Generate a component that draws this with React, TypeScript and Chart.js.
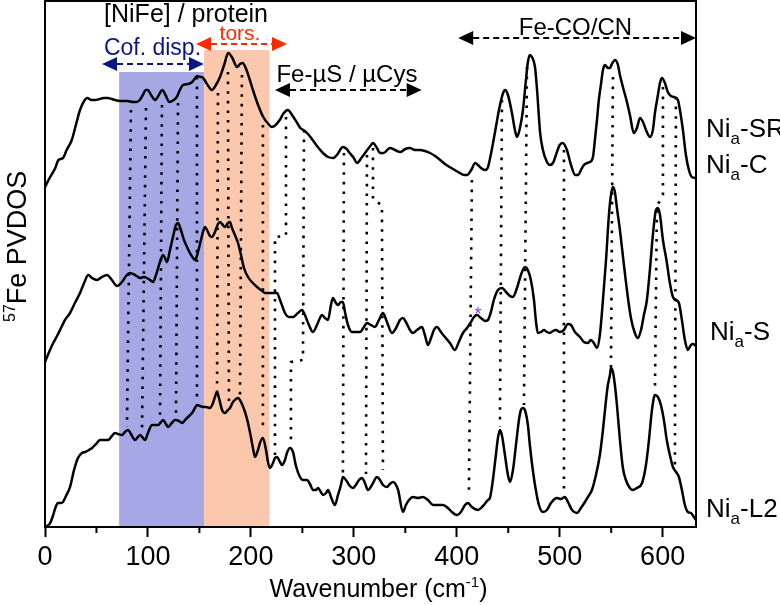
import { useEffect, useRef } from 'react';
import { Chart, registerables } from 'chart.js';

Chart.register(...registerables);

const FONT = "'Liberation Sans', Arial, Helvetica, sans-serif";

// ---------- data (x: wavenumber cm-1, y: PVDOS, arbitrary offset units) ----------
const xTicks = [0, 100, 200, 300, 400, 500, 600];
const xMinorTicks = [50, 150, 250, 350, 450, 550];

const niaSR: number[][] = [
  [0, 340], [5, 350], [10, 359], [13, 367], [17.5, 369], [21, 377], [26, 387], [30, 402], [34, 417], [38, 426],
  [41, 429], [45, 427], [49, 427], [53, 428], [57, 429], [61, 429], [65, 428], [68, 427], [73, 426], [80, 426],
  [85.5, 425], [89, 425], [92, 427], [95, 432], [98, 437], [100, 437], [103, 432], [107, 427], [110, 431], [114, 437],
  [117, 432], [121, 425], [125, 427], [128, 430], [131, 437], [134, 442], [139, 443], [143, 445], [146, 449], [148, 451],
  [151, 450], [152.5, 450], [155, 447], [158, 442], [162, 437], [166, 442], [170, 450], [174, 462], [178, 474], [182, 469],
  [186.5, 460], [189.5, 463], [192, 464], [195, 459], [199, 447], [202, 437], [207, 422], [212, 410], [217, 403], [220.5, 400],
  [224, 402], [228, 407], [232, 414], [236, 417], [240, 412], [245, 404], [248, 399], [251, 397], [255.5, 393], [260, 387],
  [265, 380], [270, 374], [275, 370], [280, 369], [283.6, 372], [289.4, 380], [293, 378], [296, 374], [300, 369], [303, 364],
  [308, 370], [313, 377], [316, 381], [318.6, 384], [322.5, 379], [325.4, 374], [329, 374], [335, 379], [340, 377], [345, 375],
  [350, 378], [354.5, 379], [359.4, 377], [364, 377], [369, 376], [374, 374], [379, 371], [384, 367], [388.5, 363], [393, 360],
  [398, 357], [403, 354], [407, 352], [410, 352], [414, 357], [418, 364], [420.6, 362], [423.5, 359], [427.4, 357], [430, 359],
  [433, 372], [437, 394], [441, 417], [445, 434], [447, 437], [449.7, 432], [453.6, 414], [456.5, 397], [458.5, 390], [461.4, 399],
  [464.3, 417], [467.2, 447], [469.1, 465], [471, 472], [473, 470], [476, 460], [478, 437], [481, 394], [483.7, 377], [487.6, 365],
  [490.5, 362], [493.4, 364], [497.3, 375], [500, 382], [503, 384], [507, 377], [511, 362], [515, 352], [518, 352], [520.6, 357],
  [523.5, 362], [526.4, 364], [529.4, 365], [532.3, 370], [534.2, 387], [536.2, 407], [538, 427], [540, 442], [542, 457], [544, 462],
  [546.8, 459], [548.8, 459], [550.7, 463], [553.6, 467], [556.6, 462], [558.5, 452], [561.4, 440], [565.3, 425], [568.2, 412], [572, 394],
  [575, 399], [578, 409], [580.9, 405], [583.8, 397], [587.6, 390], [590.5, 397], [592.5, 414], [595.4, 432], [597.4, 444], [599.3, 449],
  [602.2, 444], [605, 435], [608, 431], [611, 430], [614.8, 427], [616.8, 417], [619.7, 397], [622.6, 372], [625.5, 357], [628.4, 350],
  [632.4, 349],
];

const niaS: number[][] = [
  [0, 165], [4, 175], [8, 184], [11.7, 191], [14.6, 197], [19.4, 207], [24.3, 214], [29, 224], [34, 234], [38, 244],
  [42, 252], [45.7, 249], [50.5, 247], [55.4, 250], [60.2, 252], [65, 247], [70, 241], [74.8, 245], [78.7, 251], [82.6, 254],
  [87.4, 252], [92.3, 249], [96, 250], [99, 249], [102, 247], [105, 245], [107.8, 252], [111.7, 265], [114.6, 272], [116.6, 269],
  [118.5, 265], [121.4, 277], [124.3, 290], [127.2, 302], [129.2, 304], [132, 297], [135, 287], [138, 280], [140.8, 274], [143.8, 269],
  [145.7, 267], [148.6, 275], [151.5, 287], [153.5, 295], [155.4, 300], [157.4, 297], [160.3, 291], [162.2, 290], [165.1, 295], [168, 303],
  [170, 305], [172, 303], [174.8, 300], [177.7, 304], [179.7, 305], [181.6, 299], [184.5, 292], [187.5, 284], [190.4, 272], [193.3, 259],
  [197.2, 250], [201, 245], [206, 240], [209.8, 237], [213.7, 234], [218.5, 234], [222.4, 234], [225.3, 234], [228.3, 227], [231.2, 219],
  [233.1, 214], [237, 210], [241, 210], [245.7, 214], [249.6, 217], [252.5, 212], [256.4, 202], [260.3, 195], [264.2, 202], [267.1, 209],
  [269, 212], [272, 209], [274.9, 207], [277.8, 222], [279.7, 229], [282.6, 224], [284.6, 222], [287.5, 225], [289.4, 225], [291.4, 215],
  [294.3, 202], [298.2, 195], [302, 195], [306, 195], [309.8, 200], [312.8, 204], [316.6, 202], [320.5, 200], [324.4, 207], [328.3, 214],
  [332.2, 205], [337, 194], [341, 199], [344.8, 207], [347.7, 209], [350.6, 205], [354.5, 197], [357.4, 194], [361.3, 197], [366.2, 200],
  [369, 192], [372, 182], [375, 189], [377.8, 197], [380.7, 200], [384.6, 195], [388.5, 190], [393.4, 184], [398.2, 177], [402, 185],
  [406, 194], [410, 199], [413.8, 205], [416.7, 210], [419.6, 212], [423.5, 209], [427.4, 206], [430.3, 207], [433.2, 215], [436, 227],
  [440, 237], [444, 239], [447.8, 235], [451.7, 231], [454.6, 230], [458.5, 239], [462.3, 252], [466.2, 260], [469, 257], [472, 247],
  [475, 227], [477, 205], [478.8, 194], [481.8, 195], [484.7, 197], [487.6, 195], [490.5, 194], [493.4, 196], [496.3, 197], [500.2, 195],
  [504, 197], [508, 203], [511, 202], [514.8, 195], [519.7, 190], [523.5, 185], [527.4, 184], [530.3, 187], [533.2, 184], [536.2, 179],
  [539, 192], [542, 227], [545, 267], [547.8, 312], [549.8, 332], [551.7, 340], [553.6, 335], [555.6, 319], [558.5, 297], [562.4, 262],
  [566.3, 229], [569.2, 209], [573, 194], [576, 189], [579, 197], [581.8, 212], [584.7, 227], [587.6, 257], [590.5, 292], [593.5, 317],
  [595.4, 319], [597.4, 312], [600.3, 287], [604, 265], [607, 244], [610, 230], [613, 227], [615.8, 224], [618.7, 207], [621.6, 187],
  [624.5, 177], [627.5, 182], [629.4, 183], [632.4, 181],
];

const niaL2: number[][] = [
  [0, 0], [2, 1], [5, 4], [8, 12], [10, 19], [12.6, 24], [15.5, 24], [17.5, 25], [20.4, 31], [24.3, 40],
  [28.2, 57], [32, 69], [36, 74], [39, 75], [42.7, 77], [45.7, 79], [49.5, 83], [53.4, 87], [57.3, 87], [61.2, 87],
  [65, 91], [68, 94], [71, 93], [74.8, 92], [77.7, 95], [80.6, 97], [83.5, 93], [87.4, 87], [90.3, 90], [92.3, 92],
  [95.2, 89], [97.1, 87], [100, 94], [104, 102], [106.8, 102], [109.8, 102], [112.7, 105], [114.6, 107], [117.5, 103], [119.5, 100],
  [122.4, 103], [126.3, 107], [130.2, 106], [133, 104], [137, 108], [140, 111], [142.8, 114], [145.7, 119], [147.6, 122], [150.6, 121],
  [153.5, 120], [156.4, 120], [160.3, 119], [163.2, 124], [165.1, 130], [167.1, 135], [169, 129], [172, 117], [174.8, 114], [177.7, 117],
  [179.7, 119], [182.6, 125], [185.5, 128], [187.5, 129], [190.4, 125], [194.3, 115], [197.2, 104], [200, 90], [202, 79], [204, 70],
  [206.9, 77], [208.8, 84], [211.7, 89], [214.7, 77], [216.6, 65], [218.5, 59], [221.5, 64], [223.4, 69], [225.3, 70], [228.3, 65],
  [230.2, 62], [233.1, 67], [235, 74], [238, 79], [240.9, 75], [243.8, 61], [247.7, 50], [250.6, 47], [254.5, 47], [257.4, 43],
  [260.3, 37], [263.2, 37], [265.2, 39], [268, 35], [270, 32], [273, 34], [275, 37], [277.8, 30], [281.7, 22], [284.6, 32],
  [287.5, 42], [289.4, 50], [292.4, 47], [296.2, 41], [299.2, 39], [302, 42], [305, 47], [308, 49], [310.8, 44], [313.7, 37],
  [317.6, 42], [322.5, 50], [325.4, 47], [328.3, 42], [332.2, 40], [335, 43], [338, 45], [343, 37], [347.7, 15], [350.6, 22],
  [353.6, 27], [357.4, 30], [362.3, 29], [367.2, 30], [372, 27], [377, 22], [381.7, 22], [386.6, 22], [391.4, 19], [395.3, 15],
  [400.2, 12], [404, 15], [408, 22], [410.9, 24], [414.7, 20], [420.6, 17], [425.4, 21], [430.3, 27], [432.2, 29], [435.1, 47],
  [438, 72], [440, 89], [442, 97], [444, 91], [446.8, 72], [449.7, 52], [451.7, 45], [454.6, 57], [457.5, 82], [460.4, 107],
  [462.3, 117], [464.3, 119], [466.2, 117], [469.1, 102], [471, 82], [473, 64], [476, 42], [479.8, 22], [483.7, 15], [487.6, 17],
  [491.5, 24], [497.3, 29], [501.2, 28], [505, 30], [508, 25], [512, 17], [516.7, 14], [520.6, 19], [524.5, 25], [527.4, 30],
  [531.3, 37], [535.2, 52], [539, 72], [542, 97], [545, 127], [546.8, 142], [548.8, 152], [549.8, 159], [551.7, 155], [553.6, 142],
  [555.6, 122], [558.5, 87], [561.4, 59], [564.3, 47], [568.2, 39], [571.1, 37], [575, 39], [580, 44], [583.8, 62], [586.7, 87],
  [589.6, 117], [592.5, 132], [595.4, 130], [598.3, 122], [601.2, 107], [604, 87], [607, 72], [610, 60], [613, 55], [615.8, 50],
  [618.7, 37], [621.6, 22], [624.5, 15], [627.5, 14], [630.4, 10], [632.4, 7],
];

// dotted peak-correlation guides (polylines, wavenumber / PVDOS units)
const guideLines: number[][][] = [
  [[83.5, 417], [79.6, 100]],
  [[98.1, 419], [94.2, 94]],
  [[113.6, 422], [111.7, 107]],
  [[129.2, 424], [127.2, 107]],
  [[147.6, 450], [147.6, 124]],
  [[168, 434], [167.1, 129]],
  [[177.7, 455], [178.7, 121]],
  [[191.3, 452], [189.4, 129]],
  [[211.7, 402], [211.7, 95]],
  [[234.1, 410], [234.1, 291], [223.4, 290], [223.4, 72]],
  [[251.6, 397], [250.6, 167], [238.9, 165], [238.9, 82]],
  [[290.4, 374], [289.4, 51]],
  [[312.8, 372], [311.8, 53]],
  [[318.6, 379], [318.6, 327], [327.3, 322], [328.3, 57]],
  [[414.7, 347], [411.8, 35]],
  [[443.9, 427], [441.9, 100]],
  [[468.2, 460], [465.3, 122]],
  [[504.1, 377], [504.1, 37]],
  [[551.7, 450], [549.8, 159]],
  [[600.3, 440], [600.3, 332], [594.4, 321], [592.5, 135]],
  [[612.9, 430], [611.9, 61]],
];

// shaded regions: [from, to, top]
const cofDispBand = [72, 154.5, 455];
const torsionBand = [154.5, 218, 477];

// range arrows: [from, to, height]
const cofArrow = [55.4, 154.4, 463];
const torsArrow = [146.7, 235.1, 483];
const feSArrow = [223.4, 365.9, 437];
const feCOArrow = [401.4, 632.4, 489];

const seriesLabels = ['-SR', '-C', '-S', '-L2'];
const seriesLabelLevels = [390, 354, 187, 10];

const NAVY = '#0c1680';
const RED = '#ff2a00';

type Part = { t: string; size: number; dy: number };

function drawParts(ctx: CanvasRenderingContext2D, parts: Part[], x: number, y: number, align: 'left' | 'center') {
  let total = 0;
  for (const p of parts) {
    ctx.font = `${p.size}px ${FONT}`;
    total += ctx.measureText(p.t).width;
  }
  let cx = align === 'center' ? x - total / 2 : x;
  ctx.textAlign = 'left';
  ctx.textBaseline = 'alphabetic';
  for (const p of parts) {
    ctx.font = `${p.size}px ${FONT}`;
    ctx.fillText(p.t, cx, y + p.dy);
    cx += ctx.measureText(p.t).width;
  }
}

function drawArrow(ctx: CanvasRenderingContext2D, x1: number, x2: number, y: number, color: string) {
  const hl = 15;
  const hw = 7;
  ctx.save();
  ctx.strokeStyle = color;
  ctx.fillStyle = color;
  ctx.lineWidth = 2;
  ctx.setLineDash([6, 4]);
  ctx.beginPath();
  ctx.moveTo(x1 + hl, y);
  ctx.lineTo(x2 - hl, y);
  ctx.stroke();
  ctx.setLineDash([]);
  ctx.beginPath();
  ctx.moveTo(x1, y);
  ctx.lineTo(x1 + hl, y - hw);
  ctx.lineTo(x1 + hl, y + hw);
  ctx.closePath();
  ctx.fill();
  ctx.beginPath();
  ctx.moveTo(x2, y);
  ctx.lineTo(x2 - hl, y - hw);
  ctx.lineTo(x2 - hl, y + hw);
  ctx.closePath();
  ctx.fill();
  ctx.restore();
}

const decorPlugin = {
  id: 'decor',
  beforeDatasetsDraw(chart: any) {
    const { ctx, chartArea: a, scales } = chart;
    const x = scales.x;
    const y = scales.y;
    ctx.save();
    const bands: [number[], string][] = [
      [cofDispBand, '#a6a8e6'],
      [torsionBand, '#fcc8ad'],
    ];
    for (const [b, c] of bands) {
      const x1 = x.getPixelForValue(b[0]);
      const x2 = x.getPixelForValue(b[1]);
      const yt = y.getPixelForValue(b[2]);
      ctx.fillStyle = c;
      ctx.fillRect(x1, yt, x2 - x1, a.bottom - yt);
    }
    ctx.restore();
  },
  afterDraw(chart: any) {
    const { ctx, chartArea: a, scales } = chart;
    const x = scales.x;
    const y = scales.y;
    ctx.save();
    // frame
    ctx.strokeStyle = '#000';
    ctx.lineWidth = 2;
    ctx.strokeRect(a.left, a.top, a.right - a.left, a.bottom - a.top);
    // minor ticks
    ctx.beginPath();
    for (const v of xMinorTicks) {
      const px = x.getPixelForValue(v);
      ctx.moveTo(px, a.bottom);
      ctx.lineTo(px, a.bottom + 6);
    }
    ctx.stroke();

    // arrows
    const arrows: [number[], string][] = [
      [cofArrow, NAVY],
      [torsArrow, RED],
      [feSArrow, '#000'],
      [feCOArrow, '#000'],
    ];
    for (const [r, c] of arrows) {
      drawArrow(ctx, x.getPixelForValue(r[0]), x.getPixelForValue(r[1]), y.getPixelForValue(r[2]), c);
    }

    // annotation texts
    const texts: [string, number, number, number, string][] = [
      ['[NiFe] / protein', 137, 505, 25, '#000'],
      ['Cof. disp.', 104.4, 472, 23, NAVY],
      ['tors.', 189.4, 487, 21, RED],
      ['Fe-\u00b5S / \u00b5Cys', 293.3, 445, 24, '#000'],
      ['Fe-CO/CN', 515.3, 492, 24, '#000'],
      ['*', 420.6, 207, 18, '#9a33ff'],
    ];
    for (const [t, wx, wy, size, c] of texts) {
      ctx.fillStyle = c;
      drawParts(ctx, [{ t, size, dy: 0 }], x.getPixelForValue(wx), y.getPixelForValue(wy), 'center');
    }

    // series labels
    ctx.fillStyle = '#000';
    seriesLabels.forEach((s, i) => {
      const px = a.right + (s === '-S' ? 14 : 10);
      drawParts(
        ctx,
        [
          { t: 'Ni', size: 26, dy: 0 },
          { t: 'a', size: 17, dy: 7 },
          { t: s, size: 26, dy: 0 },
        ],
        px,
        y.getPixelForValue(seriesLabelLevels[i]),
        'left'
      );
    });

    // x-axis title
    drawParts(
      ctx,
      [
        { t: 'Wavenumber (cm', size: 25, dy: 0 },
        { t: '-1', size: 15, dy: -10 },
        { t: ')', size: 25, dy: 0 },
      ],
      (a.left + a.right) / 2 + 8,
      597,
      'center'
    );

    // y-axis title (rotated)
    ctx.save();
    ctx.translate(a.left - 19, 322);
    ctx.rotate(-Math.PI / 2);
    drawParts(
      ctx,
      [
        { t: '57', size: 16, dy: -11 },
        { t: 'Fe PVDOS', size: 27, dy: 0 },
      ],
      0,
      0,
      'left'
    );
    ctx.restore();
    ctx.restore();
  },
};

export default function App() {
  const ref = useRef<HTMLCanvasElement>(null);

  useEffect(() => {
    const toXY = (arr: number[][]) => arr.map(([px, py]) => ({ x: px, y: py }));
    const curveStyle = {
      borderColor: '#000',
      borderWidth: 2.5,
      pointRadius: 0,
      fill: false,
      cubicInterpolationMode: 'monotone' as const,
      order: 0,
    };
    const datasets: any[] = [
      { label: 'Nia-SR / Nia-C', data: toXY(niaSR), ...curveStyle },
      { label: 'Nia-S', data: toXY(niaS), ...curveStyle },
      { label: 'Nia-L2', data: toXY(niaL2), ...curveStyle },
      ...guideLines.map((g, i) => ({
        label: `guide${i}`,
        data: toXY(g),
        borderColor: '#000',
        borderWidth: 2.6,
        borderDash: [2.6, 7],
        pointRadius: 0,
        tension: 0,
        fill: false,
        order: 1,
      })),
    ];

    const chart = new Chart(ref.current as HTMLCanvasElement, {
      type: 'line',
      data: { datasets },
      options: {
        responsive: false,
        animation: false,
        devicePixelRatio: 1,
        layout: { padding: { left: 45, right: 84, top: 1, bottom: 0 } },
        plugins: {
          legend: { display: false },
          tooltip: { enabled: false },
        },
        scales: {
          x: {
            type: 'linear',
            min: 0,
            max: 632.4,
            afterFit: (s: any) => {
              s.height = 78;
            },
            afterBuildTicks: (s: any) => {
              s.ticks = xTicks.map((v) => ({ value: v }));
            },
            ticks: {
              includeBounds: false,
              maxRotation: 0,
              autoSkip: false,
              padding: 4,
              color: '#000',
              font: { family: FONT, size: 27 },
            },
            grid: {
              display: true,
              drawOnChartArea: false,
              drawTicks: true,
              tickLength: 10,
              tickWidth: 2,
              tickColor: '#000',
            },
            border: { display: false },
          },
          y: {
            type: 'linear',
            display: false,
            min: 0,
            max: 526,
          },
        },
      },
      plugins: [decorPlugin],
    });
    return () => chart.destroy();
  }, []);

  return (
    <div style={{ position: 'fixed', left: 0, top: 0, width: 780, height: 605, background: '#fff' }}>
      <canvas ref={ref} width={780} height={605} style={{ display: 'block', width: 780, height: 605 }} />
    </div>
  );
}
